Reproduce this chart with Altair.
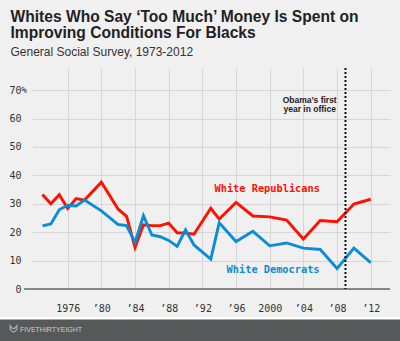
import altair as alt
import pandas as pd

years = [1973, 1974, 1975, 1976, 1977, 1978, 1980, 1982, 1983, 1984, 1985, 1986, 1987, 1988,
         1989, 1990, 1991, 1993, 1994, 1996, 1998, 2000, 2002, 2004, 2006, 2008, 2010, 2012]
republicans = [33.3, 30.0, 33.2, 28.3, 31.8, 31.3, 37.6, 28.1, 25.6, 14.6, 22.6, 22.3, 22.3, 23.2,
               19.8, 19.7, 19.3, 28.4, 24.6, 30.5, 25.7, 25.4, 24.3, 17.6, 24.1, 23.7, 29.9, 31.6]
democrats = [22.2, 22.9, 27.9, 29.5, 29.2, 31.3, 27.5, 22.7, 22.3, 16.4, 25.8, 19.0, 18.4, 17.1,
             15.0, 20.8, 15.5, 10.5, 23.3, 16.7, 20.3, 15.2, 16.2, 14.4, 13.9, 7.2, 14.4, 9.3]
series_names = ["White Republicans", "White Democrats"]
x_ticks = [1976, 1980, 1984, 1988, 1992, 1996, 2000, 2004, 2008, 2012]
y_ticks = [0, 10, 20, 30, 40, 50, 60, 70]
obama_year = [2009]
title_lines = ["Whites Who Say \u2018Too Much\u2019 Money Is Spent on", "Improving Conditions For Blacks"]
subtitle = "General Social Survey, 1973-2012"
obama_note = ["Obama\u2019s first", "year in office"]

RED = "#ff1100"
BLUE = "#0a8dd6"

rows = []
for y, r, d in zip(years, republicans, democrats):
    rows.append({"year": y, "value": r, "series": series_names[0]})
    rows.append({"year": y, "value": d, "series": series_names[1]})
df = pd.DataFrame(rows)

xscale = alt.Scale(domain=[1971.76, 2014.29], nice=False, zero=False)
yscale = alt.Scale(domain=[0, 77.8], nice=False)

one = alt.Data(values=[{"a": 1}])


def dx(v):
    return alt.XDatum(v, scale=xscale, axis=None)


def dy(v):
    return alt.YDatum(v, scale=yscale, axis=None)


lines = alt.Chart(df).mark_line(strokeWidth=2.9, strokeJoin="miter").encode(
    x=alt.X("year:Q", scale=xscale, axis=alt.Axis(
        values=x_ticks, format="d", title=None, grid=True, gridColor="#d6d6d6",
        domain=False, ticks=False, labelFont="DejaVu Sans Mono", labelFontSize=10,
        labelColor="#333", labelPadding=14, labelOverlap=False, labelBound=False,
        labelExpr="datum.value == 1976 || datum.value == 2000 ? datum.label : '\u2019' + slice(datum.label, 2)")),
    y=alt.Y("value:Q", scale=yscale, axis=alt.Axis(
        values=y_ticks, title=None, grid=True, gridColor="#d6d6d6", domain=False,
        ticks=False, labelFont="DejaVu Sans Mono", labelFontSize=10, labelColor="#333",
        labelPadding=11, labelOverlap=False, labelBound=False)),
    color=alt.Color("series:N", scale=alt.Scale(domain=series_names, range=[RED, BLUE]), legend=None),
    detail="series:N",
)

baseline = alt.Chart(one).mark_rule(color="#666", strokeWidth=1.5).encode(
    y=dy(0), x=alt.value(-8), x2=alt.value(358))

obama = alt.Chart(pd.DataFrame({"year": obama_year})).mark_rule(
    color="#111", strokeWidth=2, strokeDash=[2, 2]).encode(
    x=alt.X("year:Q", scale=xscale, axis=None), y=alt.value(0), y2=alt.value(221))

pct = alt.Chart(one).mark_text(text="%", align="left", baseline="middle",
                               font="DejaVu Sans Mono", fontSize=9, color="#333").encode(
    x=alt.value(-10.5), y=dy(70))

rep_label = alt.Chart(one).mark_text(text=series_names[0], align="center", baseline="middle",
                                     font="DejaVu Sans Mono", fontWeight="bold", fontSize=10.3,
                                     color=RED).encode(x=dx(1999.7), y=dy(35.1))
dem_label = alt.Chart(one).mark_text(text=series_names[1], align="center", baseline="middle",
                                     font="DejaVu Sans Mono", fontWeight="bold", fontSize=10.3,
                                     color=BLUE).encode(x=dx(2000.4), y=dy(6.7))

note1 = alt.Chart(one).mark_text(text=obama_note[0], align="center", baseline="middle",
                                 font="Liberation Sans", fontWeight="bold", fontSize=8.5,
                                 color="#222").encode(x=dx(2004.75), y=dy(66.5))
note2 = alt.Chart(one).mark_text(text=obama_note[1], align="center", baseline="middle",
                                 font="Liberation Sans", fontWeight="bold", fontSize=8.5,
                                 color="#222").encode(x=dx(2004.75), y=dy(63.2))

t1 = alt.Chart(one).mark_text(text=title_lines[0], align="left", baseline="alphabetic",
                              font="Liberation Sans", fontWeight="bold", fontSize=15.6,
                              color="#222").encode(x=alt.value(-21.5), y=alt.value(-46.3))
t2 = alt.Chart(one).mark_text(text=title_lines[1], align="left", baseline="alphabetic",
                              font="Liberation Sans", fontWeight="bold", fontSize=15.6,
                              color="#222").encode(x=alt.value(-21.5), y=alt.value(-30.2))
st = alt.Chart(one).mark_text(text=subtitle, align="left", baseline="alphabetic",
                              font="Liberation Sans", fontSize=12, color="#333").encode(
    x=alt.value(-21.5), y=alt.value(-12.4))

white_strip = alt.Chart(one).mark_rect(color="#ffffff").encode(
    x=alt.value(-32), x2=alt.value(368), y=alt.value(249), y2=alt.value(252))
footer = alt.Chart(one).mark_rect(color="#555959").encode(
    x=alt.value(-32), x2=alt.value(368), y=alt.value(251.5), y2=alt.value(274))
logo = alt.Chart(one).mark_point(
    shape="M-1,-1L-0.4,-0.2L0.4,-0.2L1,-1L1,0.2L0,1L-1,0.2Z", filled=False,
    color="#cfcfcf", size=45, strokeWidth=1.2).encode(x=alt.value(-18.5), y=alt.value(261))
footer_text = alt.Chart(one).mark_text(text="FIVETHIRTYEIGHT", align="left", baseline="middle",
                                       font="Liberation Sans", fontSize=7, color="#d0d0d0").encode(
    x=alt.value(-12), y=alt.value(261.5))

chart = alt.layer(
    lines, baseline, obama, pct, rep_label, dem_label, note1, note2, t1, t2, st,
    white_strip, footer, logo, footer_text
).resolve_axis(x="independent", y="independent").properties(
    width=358, height=221,
    autosize=alt.AutoSizeParams(type="none"),
    padding={"left": 32, "top": 68, "right": 10, "bottom": 52},
    background="#f0f0f0",
).configure_view(stroke=None)

chart.save("out.html", embed_options={"renderer": "svg", "actions": False})
